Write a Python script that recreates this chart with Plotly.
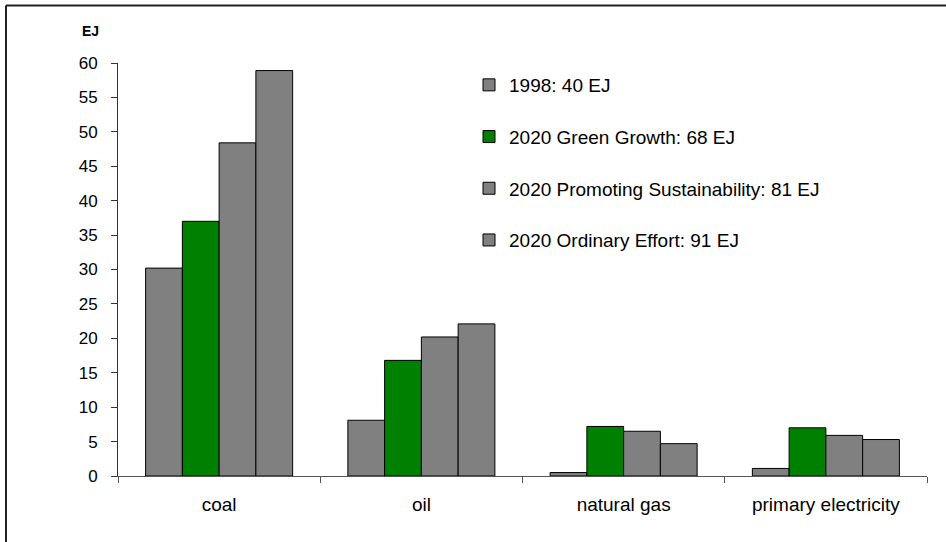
import plotly.graph_objects as go

categories = ["coal", "oil", "natural gas", "primary electricity"]
series_names = [
    "1998: 40 EJ",
    "2020 Green Growth: 68 EJ",
    "2020 Promoting Sustainability: 81 EJ",
    "2020 Ordinary Effort: 91 EJ",
]
vals_1998 = [30.2, 8.1, 0.5, 1.1]
vals_green = [37.0, 16.8, 7.2, 7.0]
vals_promoting = [48.4, 20.2, 6.5, 5.9]
vals_ordinary = [58.9, 22.1, 4.7, 5.3]
series_colors = ["#808080", "#008000", "#808080", "#808080"]
y_ticks = list(range(0, 61, 5))

FONT = "Arial, Liberation Sans, sans-serif"
W, H = 946, 542
L, R, T, B = 118, 19, 63, 66
pw, ph = W - L - R, H - T - B


def px_to_paper_x(px):
    return (px - L) / pw


def px_to_paper_y(py):
    return (H - B - py) / ph


fig = go.Figure()
for i, (name, vals, col) in enumerate(zip(series_names,
                                         [vals_1998, vals_green, vals_promoting, vals_ordinary],
                                         series_colors)):
    fig.add_trace(go.Bar(
        x=categories, y=vals, name=name, legendgroup=f"g{i}",
        marker=dict(color=col, line=dict(color="#000000", width=1)),
    ))

fig.update_layout(
    width=W, height=H,
    margin=dict(l=L, r=R, t=T, b=B, pad=0, autoexpand=False),
    paper_bgcolor="white", plot_bgcolor="white",
    barmode="group", bargap=0.273, bargroupgap=0,
    font=dict(family=FONT, size=17, color="#000000"),
    showlegend=True,
    legend=dict(
        x=px_to_paper_x(469), y=px_to_paper_y(66), xanchor="left", yanchor="top",
        traceorder="grouped", tracegroupgap=24,
        font=dict(family=FONT, size=19, color="#000000"),
        bgcolor="rgba(0,0,0,0)", borderwidth=0,
    ),
    xaxis=dict(
        type="category", showline=True, linecolor="#555555", linewidth=1,
        ticks="outside", ticklen=6, tickcolor="#555555", tickson="boundaries",
        showgrid=False, zeroline=False, ticklabelstandoff=11, tickangle=0,
        automargin=False,
        tickfont=dict(family=FONT, size=19, color="#000000"),
    ),
    yaxis=dict(
        range=[0, 60], tickvals=y_ticks, showline=True, linecolor="#333333",
        linewidth=1, ticks="outside", ticklen=6, tickcolor="#333333",
        showgrid=False, zeroline=False, ticklabelstandoff=10, automargin=False,
        tickfont=dict(family=FONT, size=17, color="#000000"),
    ),
    annotations=[dict(
        text="<b>EJ</b>", xref="paper", yref="paper",
        x=px_to_paper_x(90), y=px_to_paper_y(31), showarrow=False,
        xanchor="center", yanchor="middle",
        font=dict(family=FONT, size=14, color="#000000"),
    )],
    shapes=[
        dict(type="line", xref="paper", yref="paper",
             x0=px_to_paper_x(6), x1=px_to_paper_x(946),
             y0=px_to_paper_y(5.5), y1=px_to_paper_y(5.5),
             line=dict(color="#222222", width=2)),
        dict(type="line", xref="paper", yref="paper",
             x0=px_to_paper_x(6), x1=px_to_paper_x(6),
             y0=px_to_paper_y(5.5), y1=px_to_paper_y(542),
             line=dict(color="#222222", width=2)),
    ],
)

fig.write_html("out.html")
